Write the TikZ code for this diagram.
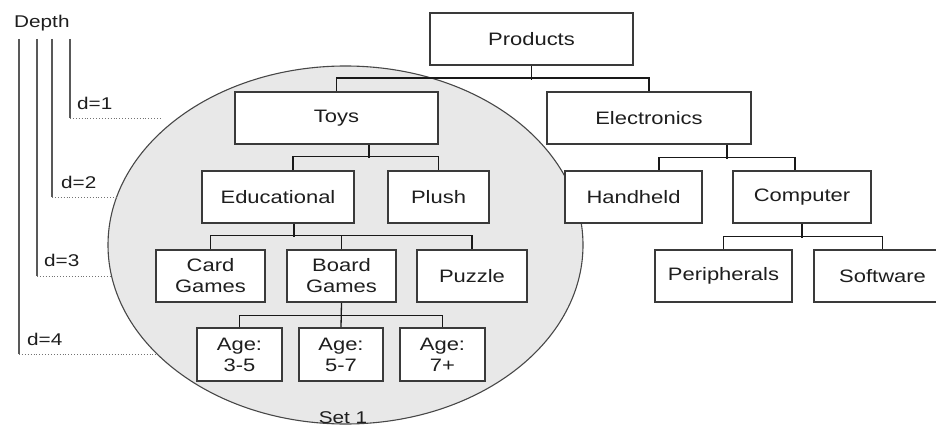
\documentclass[tikz,border=0pt]{standalone}
\usepackage{fontspec}
\setmainfont{Liberation Sans}[FakeStretch=1.22]
\definecolor{fillg}{HTML}{E8E8E8}
\definecolor{lineg}{HTML}{3A3A3A}
\definecolor{txt}{HTML}{1E1E1E}
\begin{document}
\begin{tikzpicture}[x=1pt,y=-1pt,
  box/.style={draw=lineg, line width=1.7pt, fill=white, inner sep=0pt, align=center,
    text=txt, font=\fontsize{18}{21}\selectfont, minimum height=52pt},
  conn/.style={draw=black!90, line width=1.3pt},
  dep/.style={draw=black!65, line width=1.1pt},
  dots/.style={draw=black!55, line width=0.9pt, dotted},
  lbl/.style={text=txt, font=\fontsize{17}{20}\selectfont, inner sep=0pt, anchor=base west}]
\useasboundingbox (0,0) rectangle (936,425);
\clip (0,0) rectangle (936,425);
% set ellipse
\draw[fill=fillg, draw=black!72, line width=1.1pt] (345.5,245) ellipse [x radius=237.5pt, y radius=179pt];
\node[lbl, anchor=base] (set1) at (343,423) {Set 1};
% depth scale
\node[lbl] (depth) at (14,28) {Depth};
\draw[dep] (70,39) -- (70,118);
\draw[dep] (52,39) -- (52,197);
\draw[dep] (37,39) -- (37,276);
\draw[dep] (19,39) -- (19,354);
\draw[dots] (70,118) -- (160,118);
\draw[dots] (52,197) -- (117,197);
\draw[dots] (37,276) -- (110,276);
\draw[dots] (19,354) -- (157,354);
\node[lbl] (d1) at (77,110) {d=1};
\node[lbl] (d2) at (61,188) {d=2};
\node[lbl] (d3) at (44,266) {d=3};
\node[lbl] (d4) at (27,345) {d=4};
% boxes
\node[box, minimum width=203pt] (prod) at (531.5,39) {Products};
\node[box, minimum width=203pt] (toys) at (336.5,118) {Toys};
\node[box, minimum width=204pt] (elec) at (649,118) {Electronics};
\node[box, minimum width=152pt] (edu) at (278,197) {Educational};
\node[box, minimum width=101pt] (plush) at (438.5,197) {Plush};
\node[box, minimum width=137pt] (hand) at (633.5,197) {Handheld};
\node[box, minimum width=138pt] (comp) at (802,197) {Computer};
\node[box, minimum width=109pt] (card) at (210.5,276) {Card\\Games};
\node[box, minimum width=109pt] (board) at (341.5,276) {Board\\Games};
\node[box, minimum width=110pt] (puzzle) at (472,276) {Puzzle};
\node[box, minimum width=137pt] (peri) at (723.5,276) {Peripherals};
\node[box, minimum width=137pt] (soft) at (882.5,276) {Software};
\node[box, minimum width=85pt, minimum height=53pt] (age1) at (239.5,354.5) {Age:\\3-5};
\node[box, minimum width=84pt, minimum height=53pt] (age2) at (341,354.5) {Age:\\5-7};
\node[box, minimum width=85pt, minimum height=53pt] (age3) at (442.5,354.5) {Age:\\7+};
% connectors
\draw[conn] (prod.south) -- ++(0,14);
\draw[conn] (toys.north) -- ++(0,-13) -| (elec.north);
\draw[conn] ([xshift=32.5pt]toys.south) -- ++(0,13);
\draw[conn] ([xshift=15pt]edu.north) -- ++(0,-14) -| (plush.north);
\draw[conn] ([xshift=78pt]elec.south) -- ++(0,14);
\draw[conn] ([xshift=25.5pt]hand.north) -- ++(0,-13) -| ([xshift=-7pt]comp.north);
\draw[conn] ([xshift=16pt]edu.south) -- ++(0,13);
\draw[conn] (card.north) -- ++(0,-14) -| (puzzle.north);
\draw[conn] (board.north) -- ++(0,-14);
\draw[conn] (comp.south) -- ++(0,14);
\draw[conn] (peri.north) -- ++(0,-13) -| (soft.north);
\draw[conn] (board.south) -- (age2.north);
\draw[conn] (age1.north) -- ++(0,-12) -| (age3.north);
\end{tikzpicture}
\end{document}
